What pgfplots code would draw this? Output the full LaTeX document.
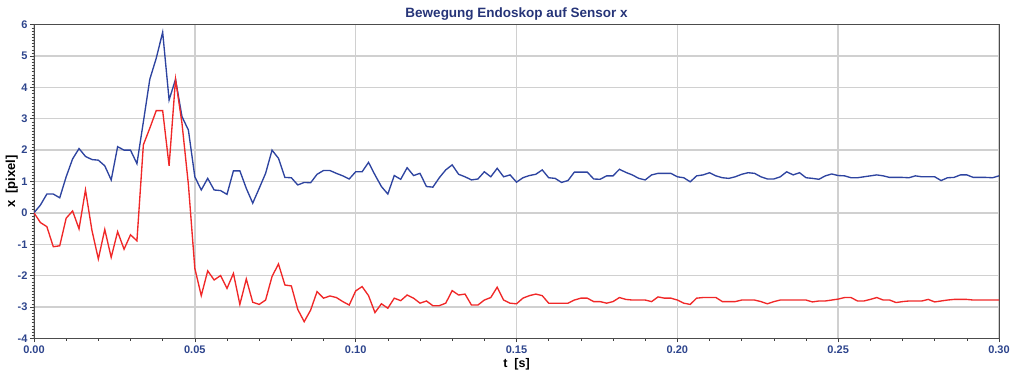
\documentclass[border=0pt]{standalone}
\usepackage{pgfplots}
\pgfplotsset{compat=1.18}
\usepackage{pgfplotstable}
\usepackage{fontspec}
\setmainfont{Liberation Sans}

\definecolor{navy}{RGB}{38,52,120}
\definecolor{ticknavy}{RGB}{45,68,140}
\definecolor{lineblue}{RGB}{46,68,160}
\definecolor{linered}{RGB}{240,40,40}
\definecolor{gridgray}{RGB}{208,208,208}

% t [s], x [pixel] (upper trace), x [pixel] (lower trace)
\pgfplotstableread{
t      a      b
0.000  0.00   0.00
0.002  0.25  -0.31
0.004  0.60  -0.44
0.006  0.60  -1.08
0.008  0.48  -1.05
0.010  1.15  -0.17
0.012  1.72   0.06
0.014  2.05  -0.51
0.016  1.80   0.73
0.018  1.70  -0.55
0.020  1.68  -1.47
0.022  1.50  -0.53
0.024  1.05  -1.42
0.026  2.11  -0.60
0.028  2.00  -1.16
0.030  2.00  -0.70
0.032  1.57  -0.89
0.034  2.90   2.17
0.036  4.26   2.70
0.038  4.93   3.26
0.040  5.76   3.26
0.042  3.60   1.50
0.044  4.26   4.26
0.046  3.07   2.86
0.048  2.64   0.90
0.050  1.15  -1.77
0.052  0.73  -2.64
0.054  1.10  -1.85
0.056  0.73  -2.14
0.058  0.71  -2.00
0.060  0.59  -2.41
0.062  1.34  -1.93
0.064  1.34  -2.92
0.066  0.78  -2.11
0.068  0.31  -2.85
0.070  0.78  -2.92
0.072  1.26  -2.78
0.074  2.00  -2.03
0.076  1.74  -1.63
0.078  1.13  -2.30
0.080  1.12  -2.33
0.082  0.89  -3.08
0.084  0.97  -3.47
0.086  0.96  -3.10
0.088  1.23  -2.51
0.090  1.35  -2.72
0.092  1.35  -2.65
0.094  1.26  -2.70
0.096  1.18  -2.83
0.098  1.08  -2.94
0.100  1.31  -2.49
0.102  1.31  -2.35
0.104  1.61  -2.64
0.106  1.21  -3.18
0.108  0.84  -2.90
0.110  0.60  -3.04
0.112  1.19  -2.72
0.114  1.07  -2.80
0.116  1.44  -2.62
0.118  1.19  -2.72
0.120  1.26  -2.88
0.122  0.84  -2.81
0.124  0.82  -2.96
0.126  1.12  -2.96
0.128  1.37  -2.88
0.130  1.53  -2.48
0.132  1.23  -2.62
0.134  1.15  -2.59
0.136  1.05  -2.94
0.138  1.08  -2.94
0.140  1.31  -2.78
0.142  1.15  -2.70
0.144  1.42  -2.37
0.146  1.15  -2.78
0.148  1.21  -2.88
0.150  0.98  -2.90
0.152  1.12  -2.72
0.154  1.19  -2.64
0.156  1.23  -2.59
0.158  1.37  -2.64
0.160  1.12  -2.88
0.162  1.10  -2.88
0.164  0.97  -2.88
0.166  1.03  -2.88
0.168  1.30  -2.78
0.170  1.30  -2.72
0.172  1.30  -2.72
0.174  1.08  -2.83
0.176  1.07  -2.83
0.178  1.18  -2.88
0.180  1.18  -2.83
0.182  1.39  -2.70
0.184  1.29  -2.76
0.186  1.21  -2.78
0.188  1.10  -2.78
0.190  1.05  -2.78
0.192  1.21  -2.83
0.194  1.26  -2.68
0.196  1.26  -2.72
0.198  1.26  -2.72
0.200  1.15  -2.78
0.202  1.12  -2.88
0.204  0.99  -2.92
0.206  1.18  -2.72
0.208  1.21  -2.70
0.210  1.28  -2.70
0.212  1.18  -2.70
0.214  1.12  -2.83
0.216  1.10  -2.83
0.218  1.15  -2.83
0.220  1.23  -2.78
0.222  1.28  -2.78
0.224  1.26  -2.78
0.226  1.15  -2.83
0.228  1.08  -2.90
0.230  1.08  -2.83
0.232  1.15  -2.78
0.234  1.31  -2.78
0.236  1.21  -2.78
0.238  1.28  -2.78
0.240  1.12  -2.78
0.242  1.10  -2.84
0.244  1.07  -2.81
0.246  1.18  -2.81
0.248  1.24  -2.78
0.250  1.19  -2.75
0.252  1.18  -2.70
0.254  1.12  -2.70
0.256  1.12  -2.81
0.258  1.15  -2.81
0.260  1.18  -2.76
0.262  1.21  -2.70
0.264  1.18  -2.78
0.266  1.13  -2.78
0.268  1.13  -2.86
0.270  1.13  -2.83
0.272  1.12  -2.81
0.274  1.18  -2.81
0.276  1.15  -2.81
0.278  1.15  -2.76
0.280  1.15  -2.84
0.282  1.03  -2.81
0.284  1.12  -2.78
0.286  1.13  -2.76
0.288  1.21  -2.76
0.290  1.21  -2.76
0.292  1.13  -2.78
0.294  1.13  -2.78
0.296  1.13  -2.78
0.298  1.12  -2.78
0.300  1.18  -2.78
}\sensordata

\begin{document}
\begin{tikzpicture}[x=1pt,y=1pt]
\useasboundingbox (0,0) rectangle (1019,372);
\begin{axis}[
  at={(34pt,33.7pt)}, anchor=south west,
  scale only axis,
  width=965pt, height=313.6pt,
  xmin=0, xmax=0.30, ymin=-4, ymax=6,
  xtick={0,0.05,...,0.30},
  ytick={-4,-3,...,6},
  minor x tick num=4,
  minor y tick num=9,
  tick align=outside,
  major tick length=4pt,
  minor tick length=2.5pt,
  tick style={black!75, line width=0.6pt},
  minor tick style={black!75, line width=0.5pt},
  xtick pos=bottom, ytick pos=left,
  axis line style={black!70, line width=0.8pt},
  grid=major,
  major grid style={gridgray, line width=1.4pt},
  /pgf/number format/assume math mode=true,
  xticklabel style={/pgf/number format/fixed, /pgf/number format/fixed zerofill,
    /pgf/number format/precision=2, font=\fontsize{11}{12}\selectfont\bfseries, text=ticknavy},
  yticklabel style={font=\fontsize{11}{12}\selectfont\bfseries, text=ticknavy, xshift=1pt},
  xlabel={t\ \ [s]},
  ylabel={x\ \ [pixel]},
  xlabel style={font=\fontsize{12.5}{13}\selectfont\bfseries, text=black, yshift=2pt},
  ylabel style={font=\fontsize{13}{14}\selectfont\bfseries, text=black, yshift=-7pt},
  title={Bewegung Endoskop auf Sensor x},
  title style={font=\fontsize{13.5}{15}\selectfont\bfseries, text=navy, yshift=-5pt},
  clip=true,
]
\addplot[lineblue, line width=1.35pt] table[x=t, y=a] {\sensordata};
\addplot[linered, line width=1.35pt] table[x=t, y=b] {\sensordata};
\end{axis}
\end{tikzpicture}
\end{document}
